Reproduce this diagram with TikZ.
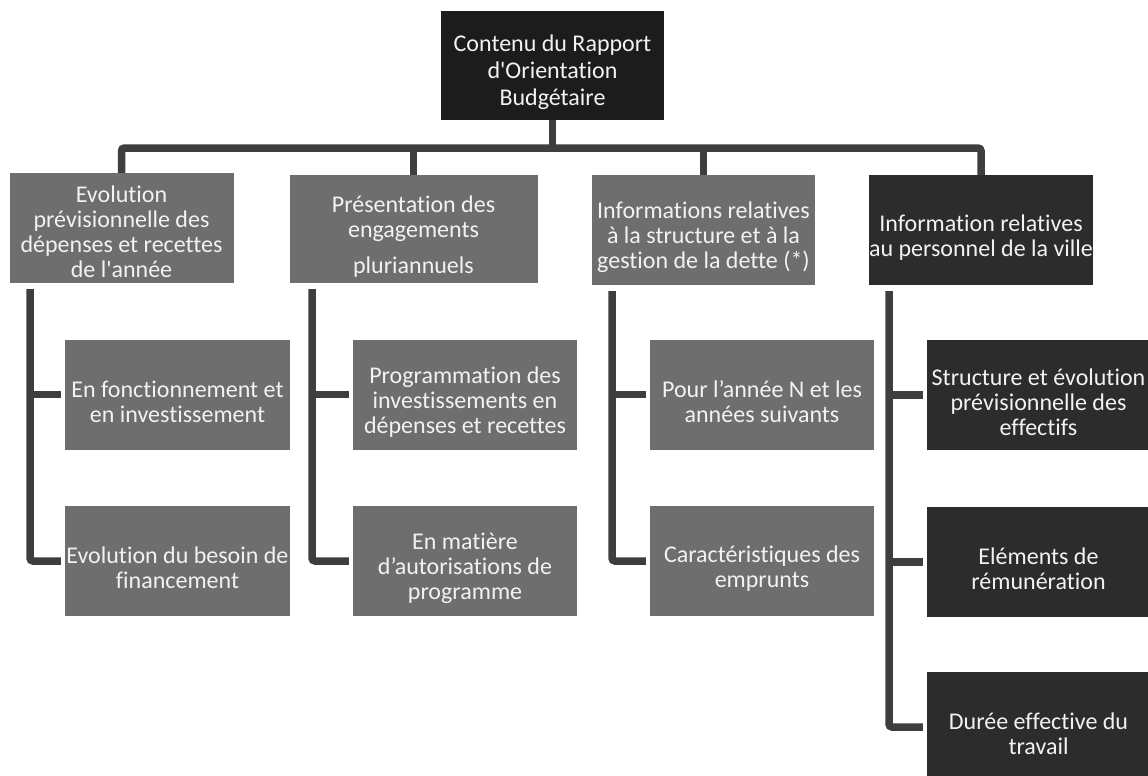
\documentclass[tikz,border=0pt]{standalone}
\usepackage{fontspec}
\setmainfont{Carlito}[Ligatures={TeX,NoCommon}]
\newfontfamily\plainap{Carlito}
\definecolor{topblack}{HTML}{1C1C1C}
\definecolor{midgray}{HTML}{6E6E6E}
\definecolor{darkbox}{HTML}{2C2C2C}
\definecolor{linegray}{HTML}{3E3E3E}
\definecolor{txt}{HTML}{F2F2F2}
\newcommand{\sq}{{\plainap\symbol{39}}}
\newcommand{\dn}{\rule{0pt}{31pt}}
\tikzset{
  box/.style={rectangle, inner sep=0pt, align=center, text=txt,
    font=\fontsize{24}{25}\selectfont, minimum height=110},
  gbox/.style={box, fill=midgray},
  dbox/.style={box, fill=darkbox},
  conn/.style={draw=linegray, line width=7.5pt, rounded corners=3pt},
}
\begin{document}
\begin{tikzpicture}[x=1pt,y=-1pt]
\clip (0,0) rectangle (1148,776);
\fill[white] (0,0) rectangle (1148,776);

% top
\node[box, fill=topblack, minimum width=223, minimum height=109,
      font=\fontsize{24}{27}\selectfont] (top) at (552.5,65.5)
  {\dn Contenu du Rapport\\d\sq Orientation\\Budgétaire};

% level 1
\node[gbox, minimum width=224] (b1) at (121.5,228)
  {\rule{0pt}{24pt}Evolution\\prévisionnelle des\\dépenses et recettes\\de l\sq année};
\node[gbox, minimum width=248, minimum height=108] (b2) at (413.5,229)
  {\dn Présentation des\\engagements\\[11pt]pluriannuels};
\node[gbox, minimum width=223] (b3) at (703.5,230)
  {\dn Informations relatives\\à la structure et à la\\gestion de la dette (*)};
\node[dbox, minimum width=223] (b4) at (981,230)
  {\dn Information relatives\\au personnel de la ville};

% level 2, column 1
\node[gbox, minimum width=225] (c11) at (177.5,394.5)
  {\dn En fonctionnement et\\en investissement};
\node[gbox, minimum width=225] (c12) at (177.5,561)
  {\dn Evolution du besoin de\\financement};
% column 2
\node[gbox, minimum width=224] (c21) at (465,394.5)
  {\dn Programmation des\\investissements en\\dépenses et recettes};
\node[gbox, minimum width=224] (c22) at (465,561)
  {\dn En matière\\d'autorisations de\\programme};
% column 3
\node[gbox, minimum width=224] (c31) at (762,394.5)
  {\dn Pour l'année N et les\\années suivants};
\node[gbox, minimum width=224] (c32) at (762,561)
  {\dn Caractéristiques des\\emprunts};
% column 4
\node[dbox, minimum width=223] (c41) at (1038.5,395)
  {\dn Structure et évolution\\prévisionnelle des\\effectifs};
\node[dbox, minimum width=223] (c42) at (1038.5,562)
  {\dn Eléments de\\rémunération};
\node[dbox, minimum width=223] (c43) at (1038.5,727)
  {\dn Durée effective du\\travail};

% connectors top level
\coordinate (bar) at (0,148);
\draw[conn] (top.south) -- (top.south |- bar);
\draw[conn] (b1.north) -- (b1.north |- bar) -- (b4.north |- bar) -- (b4.north);
\draw[conn] (b2.north |- bar) -- (b2.north);
\draw[conn] (b3.north |- bar) -- (b3.north);

% column lines
\coordinate (v1) at (30,289);
\coordinate (v2) at (312,289);
\coordinate (v3) at (612,291);
\coordinate (v4) at (889,291);
\draw[conn] (v1) |- ([xshift=-4pt]c12.west);
\draw[conn] (v1 |- c11.west) -- ([xshift=-4pt]c11.west);
\draw[conn] (v2) |- ([xshift=-4pt]c22.west);
\draw[conn] (v2 |- c21.west) -- ([xshift=-4pt]c21.west);
\draw[conn] (v3) |- ([xshift=-4pt]c32.west);
\draw[conn] (v3 |- c31.west) -- ([xshift=-4pt]c31.west);
\draw[conn] (v4) |- ([xshift=-4pt]c43.west);
\draw[conn] (v4 |- c41.west) -- ([xshift=-4pt]c41.west);
\draw[conn] (v4 |- c42.west) -- ([xshift=-4pt]c42.west);
\end{tikzpicture}
\end{document}
